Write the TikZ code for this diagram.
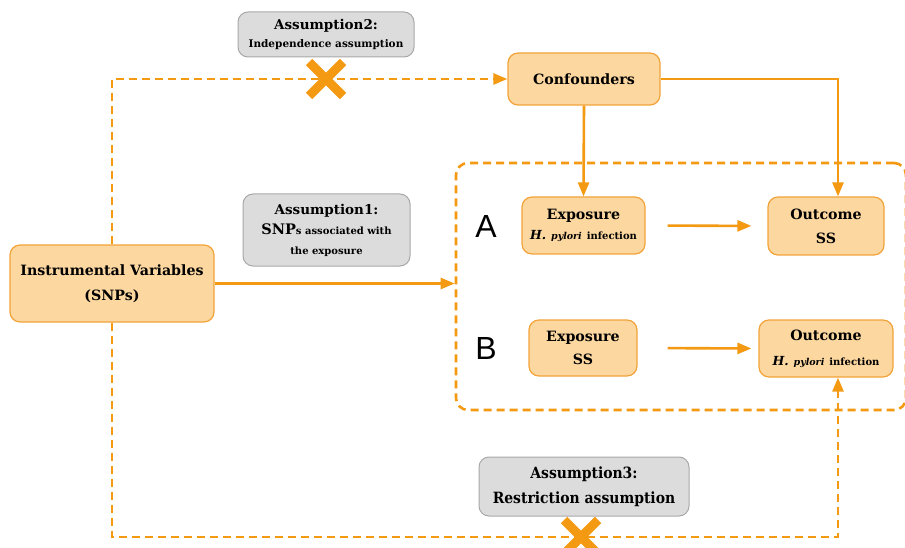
\documentclass[tikz,border=0pt]{standalone}
\usepackage{fontspec}
\setmainfont{DejaVu Serif}
\newfontfamily\panelfont{Liberation Sans}
\newfontfamily\condfont{DejaVu Serif Condensed}
\usetikzlibrary{positioning,arrows.meta,shapes.misc}
\definecolor{ivorange}{HTML}{F39A12}
\definecolor{ivfill}{HTML}{FCD7A0}
\definecolor{ivedge}{HTML}{F2A33A}
\definecolor{asmgray}{HTML}{DCDCDC}
\definecolor{asmedge}{HTML}{A8A8A8}
\newcommand{\hpy}{{\fontsize{12.5}{12}\selectfont\bfseries\itshape H.} {\fontsize{9.5}{11}\selectfont\bfseries\itshape pylori} {\fontsize{10}{11}\selectfont\bfseries infection}}

\begin{document}
\begin{tikzpicture}[x=1pt,y=-1pt,
  box/.style={rectangle,rounded corners=10pt,draw=ivedge,fill=ivfill,line width=1.2pt,align=center,inner sep=0pt},
  asm/.style={rectangle,rounded corners=10pt,draw=asmedge,fill=asmgray,line width=1pt,align=center,inner sep=0pt},
  ar/.style={-{Triangle[length=14pt,width=11pt]},line width=2.6pt,ivorange},
  dar/.style={ar,dash pattern=on 8pt off 5pt},
  nope/.style={cross out,draw=ivorange,line width=9pt,minimum size=25pt,inner sep=0pt},
  panel/.style={font=\panelfont\fontsize{32}{34}\selectfont}]
\useasboundingbox (0,0) rectangle (905,548);
% dashed frame round panels A and B
\node[draw=ivorange,line width=2.6pt,dash pattern=on 8pt off 5pt,rounded corners=12pt,minimum width=450pt,minimum height=247pt] (grp) at (681,286.5) {};
% assumption boxes
\node[asm,minimum width=176pt,minimum height=45pt,font=\bfseries\fontsize{13.5}{18}\selectfont] (asm2) at (326,34.5) {Assumption2:\\{\fontsize{10.5}{18}\selectfont Independence assumption}};
\node[asm,minimum width=167pt,minimum height=72pt,font=\bfseries\fontsize{13.5}{20}\selectfont] (asm1) at (326.5,230) {Assumption1:\\{\fontsize{14.5}{20}\selectfont SNP}{\fontsize{10}{20}\selectfont s associated with}\\{\fontsize{10}{20}\selectfont the exposure}};
\node[asm,minimum width=210pt,minimum height=59pt,font=\condfont\bfseries\fontsize{15.5}{25}\selectfont] (asm3) at (584,486.5) {Assumption3:\\Restriction assumption};
% variable boxes
\node[box,minimum width=204pt,minimum height=77pt,font=\bfseries\fontsize{14.2}{25}\selectfont] (iv) at (112,283.5) {Instrumental Variables\\(SNPs)};
\node[box,minimum width=152pt,minimum height=52pt,font=\bfseries\fontsize{14.2}{20}\selectfont] (conf) at (584,79) {Confounders};
\node[box,minimum width=123pt,minimum height=57pt,font=\bfseries\fontsize{14.2}{20}\selectfont] (expA) at (583.5,225.5) {Exposure\\\hpy};
\node[box,minimum width=116pt,minimum height=58pt,font=\bfseries\fontsize{14.2}{24}\selectfont] (outA) at (826,226) {Outcome\\SS};
\node[box,minimum width=108pt,minimum height=56pt,font=\bfseries\fontsize{14.2}{23}\selectfont] (expB) at (583,348) {Exposure\\SS};
\node[box,minimum width=134pt,minimum height=57pt,font=\bfseries\fontsize{14.2}{25}\selectfont] (outB) at (826,348.5) {Outcome\\\hpy};
\node[panel] (labA) at (486,226) {A};
\node[panel] (labB) at (486,348) {B};
% connectors
\coordinate (lowturn) at (838,537);
\draw[dar] (iv.north) |- (conf.west);
\draw[ar] (conf.south) -- (expA.north);
\draw[ar] (conf.east) -| ([xshift=12pt]outA.north);
\draw[ar] (iv.east) -- (iv.east -| grp.west);
\draw[ar,shorten <=22pt,shorten >=16pt] (expA.east) -- (outA.west);
\draw[ar,shorten <=30pt,shorten >=7pt] (expB.east) -- (outB.west);
\draw[dar] (iv.south) |- (lowturn) -- ([xshift=12pt]outB.south);
% violated paths
\node[nope] (cut2) at (326,79) {};
\node[nope] (cut3) at (581,537) {};
\end{tikzpicture}
\end{document}
